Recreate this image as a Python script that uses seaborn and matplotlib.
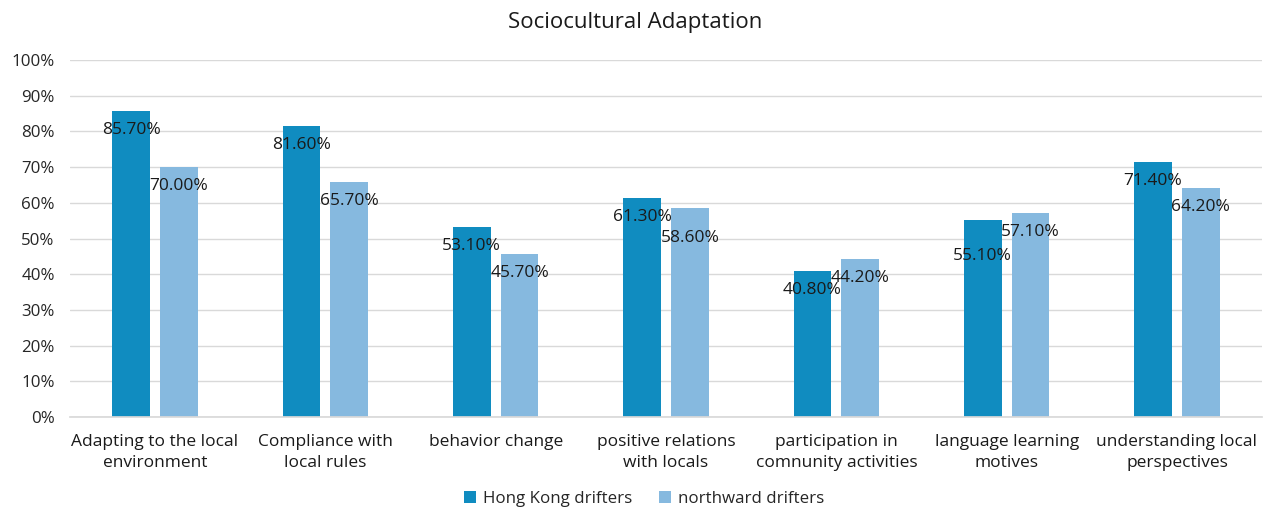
import matplotlib
matplotlib.use("Agg")
import matplotlib.pyplot as plt
import seaborn as sns
import pandas as pd
from matplotlib.ticker import PercentFormatter, MultipleLocator
from matplotlib.patches import Patch

categories = [
    "Adapting to the local\nenvironment",
    "Compliance with\nlocal rules",
    "behavior change",
    "positive relations\nwith locals",
    "participation in\ncomnunity activities",
    "language learning\nmotives",
    "understanding local\nperspectives",
]
series_names = ["Hong Kong drifters", "northward drifters"]
hk_values = [85.7, 81.6, 53.1, 61.3, 40.8, 55.1, 71.4]
north_values = [70.0, 65.7, 45.7, 58.6, 44.2, 57.1, 64.2]
y_ticks = [0, 10, 20, 30, 40, 50, 60, 70, 80, 90, 100]

colors = ["#108CC0", "#86B9DF"]

sns.set_theme(style="white")
plt.rcParams["font.family"] = ["Open Sans", "DejaVu Sans"]

df = pd.DataFrame({
    "category": categories * 2,
    "series": [series_names[0]] * len(categories) + [series_names[1]] * len(categories),
    "value": hk_values + north_values,
})

fig = plt.figure(figsize=(12.71, 5.08), dpi=100)
ax = fig.add_axes([0.055, 0.179, 0.938, 0.703])

sns.barplot(data=df, x="category", y="value", hue="series", order=categories,
            hue_order=series_names, palette=colors, width=0.561, gap=0.208,
            saturation=1, ax=ax, legend=False, edgecolor="none")

ax.set_ylim(0, 100)
ax.set_xlim(-0.5, len(categories) - 0.5)
ax.yaxis.set_major_locator(MultipleLocator(10))
ax.yaxis.set_major_formatter(PercentFormatter(decimals=0))
ax.set_yticks(y_ticks)
ax.grid(axis="y", color="#D9D9D9", linewidth=1)
ax.set_axisbelow(True)
for s in ["left", "right", "top"]:
    ax.spines[s].set_visible(False)
ax.spines["bottom"].set_color("#D9D9D9")
ax.tick_params(axis="y", labelsize=12.2, colors="#262626", length=0, pad=11)
ax.tick_params(axis="x", labelsize=12.5, colors="#1a1a1a", length=0, pad=12)
for lbl in ax.get_xticklabels():
    lbl.set_linespacing(1.45)
ax.set_xlabel("")
ax.set_ylabel("")

# data labels (a couple nudged down to avoid collisions, as in the reference)
extra = {(0, 5): 17, (1, 3): 11}
for si, container in enumerate(ax.containers):
    for ci, bar in enumerate(container):
        h = bar.get_height()
        off = -19 - extra.get((si, ci), 0)
        ax.annotate(f"{h:.2f}%", (bar.get_x() + bar.get_width() / 2, h),
                    xytext=(0, off), textcoords="offset pixels",
                    ha="center", va="center", fontsize=12.5, color="#1a1a1a")

fig.suptitle("Sociocultural Adaptation", y=0.955, va="center", fontsize=16, color="#1a1a1a")

handles = [Patch(facecolor=c, edgecolor="none") for c in colors]
fig.legend(handles, series_names, loc="center", bbox_to_anchor=(0.507, 0.018),
           ncol=2, frameon=False, fontsize=12.2, handlelength=0.7, handleheight=0.7,
           handletextpad=0.4, columnspacing=1.6)

fig.savefig("out.png", dpi=100)
